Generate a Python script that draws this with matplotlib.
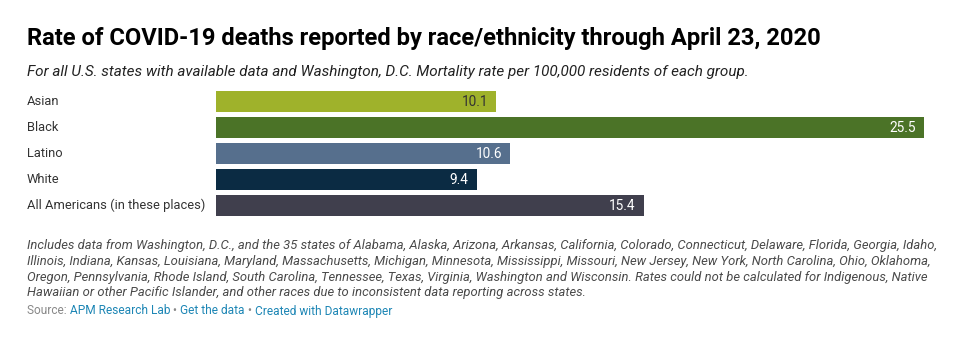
import matplotlib
matplotlib.use("Agg")
import matplotlib.pyplot as plt

categories = ["Asian", "Black", "Latino", "White", "All Americans (in these places)"]
values = [10.1, 25.5, 10.6, 9.4, 15.4]
colors = ["#9fb22b", "#4b7327", "#566f8d", "#0b2b43", "#403f4d"]
label_colors = ["#333333", "#ffffff", "#ffffff", "#ffffff", "#ffffff"]

title = "Rate of COVID-19 deaths reported by race/ethnicity through April 23, 2020"
subtitle = "For all U.S. states with available data and Washington, D.C. Mortality rate per 100,000 residents of each group."
notes = [
    "Includes data from Washington, D.C., and the 35 states of Alabama, Alaska, Arizona, Arkansas, California, Colorado, Connecticut, Delaware, Florida, Georgia, Idaho,",
    "Illinois, Indiana, Kansas, Louisiana, Maryland, Massachusetts, Michigan, Minnesota, Mississippi, Missouri, New Jersey, New York, North Carolina, Ohio, Oklahoma,",
    "Oregon, Pennsylvania, Rhode Island, South Carolina, Tennessee, Texas, Virginia, Washington and Wisconsin. Rates could not be calculated for Indigenous, Native",
    "Hawaiian or other Pacific Islander, and other races due to inconsistent data reporting across states.",
]

plt.rcParams['font.family'] = ['Roboto', 'DejaVu Sans']

W, H = 977, 339
fig = plt.figure(figsize=(W / 100, H / 100), dpi=100)
fig.patch.set_facecolor("white")

def fx(px):
    return px / W

def fy(py):
    return 1 - py / H

ax_left, ax_right = 216, 924
ax_top, ax_bot = 88.5, 218.5
ax = fig.add_axes([fx(ax_left), fy(ax_bot), fx(ax_right - ax_left), (ax_bot - ax_top) / H])
ypos = list(range(len(categories)))
ax.barh(ypos, values, height=0.8, color=colors, edgecolor="none")
ax.set_xlim(0, 25.5)
ax.set_ylim(len(categories) - 0.5, -0.5)
ax.axis("off")

for y, v, c in zip(ypos, values, label_colors):
    ax.annotate(f"{v}", xy=(v, y), xytext=(-6, 0), textcoords="offset points",
                ha="right", va="center", fontsize=9.8, color=c)

# category labels
for y, cat in zip(ypos, categories):
    ax.annotate(cat, xy=(0, y), xycoords=("axes fraction", "data"),
                xytext=(27 - ax_left, 0), textcoords="offset pixels",
                ha="left", va="center", fontsize=9.3, color="#333333",
                annotation_clip=False)

fig.text(fx(27), fy(38), title, fontsize=17.1, fontweight="bold", color="#000000",
         ha="left", va="center")
fig.text(fx(27), fy(72), subtitle, fontsize=11.0, fontstyle="italic", color="#222222",
         ha="left", va="center")

note_y = [246, 261.5, 277, 292.5]
for ny, line in zip(note_y, notes):
    fig.text(fx(27), fy(ny), line, fontsize=9.4, fontstyle="italic", color="#4a4a4a",
             ha="left", va="center")

# source line
src_y = fy(311)
t = fig.text(fx(27), src_y, "Source: ", fontsize=8.6, color="#888888", ha="left", va="center")
fig.canvas.draw()
r = fig.canvas.get_renderer()
parts = [("APM Research Lab", "#1d86b5"), (" • ", "#888888"), ("Get the data", "#1d86b5"),
         (" • ", "#888888"), ("Created with Datawrapper", "#1d86b5")]
x = t.get_window_extent(r).x1
for s, c in parts:
    tt = fig.text(x / W, src_y, s, fontsize=8.6, color=c, ha="left", va="center")
    x = tt.get_window_extent(r).x1

fig.savefig("out.png", dpi=100, facecolor="white")
